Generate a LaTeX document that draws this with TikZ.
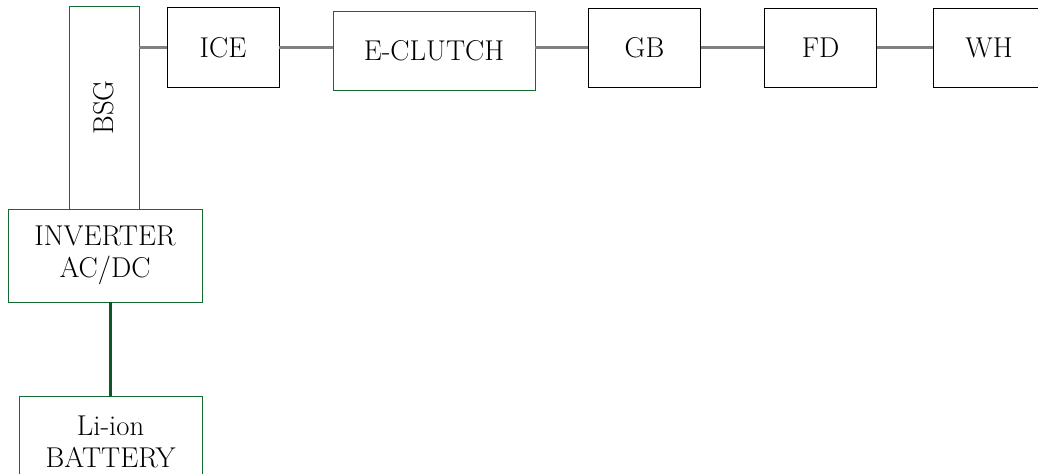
\documentclass[tikz,border=0pt]{standalone}
\definecolor{boxgreen}{RGB}{18,108,50}
\definecolor{linkgray}{RGB}{128,128,128}
\tikzset{
  x=0.75pt, y=-0.75pt,
  unit/.style={draw=#1, line width=0.7pt, rectangle, inner sep=0pt,
    align=center, font=\fontsize{21.5}{24}\selectfont},
  unit/.default=black,
  link/.style={draw=linkgray, line width=1.6pt},
  dclink/.style={draw=boxgreen!80!black, line width=1.8pt},
}
\begin{document}
\begin{tikzpicture}
\useasboundingbox (0,0) rectangle (1038,474);
\clip (0,0) rectangle (1038,474);

% drivetrain along the top
\node[unit=boxgreen, minimum width=52.5pt, minimum height=152.25pt] (bsg) at (104,107.5) {\rotatebox{90}{BSG}};
\node[unit, minimum width=84pt, minimum height=60pt] (ice) at (223,47.5) {ICE};
\node[unit=boxgreen, minimum width=151.5pt, minimum height=59.25pt] (ecl) at (434,50.5) {E-CLUTCH};
\node[unit, minimum width=84pt, minimum height=59.25pt] (gb) at (644.5,47.5) {GB};
\node[unit, minimum width=84pt, minimum height=59.25pt] (fd) at (820.5,47.5) {FD};
\node[unit, minimum width=84pt, minimum height=59.25pt] (wh) at (989,47.5) {WH};

% electrical side
\node[unit=boxgreen, minimum width=145.5pt, minimum height=69.75pt] (inv) at (105,255.5) {INVERTER\\AC/DC};
\node[unit=boxgreen, minimum width=137.25pt, minimum height=68.25pt] (bat) at (110.5,441.5) {Li-ion\\BATTERY};

% mechanical links
\draw[link] (ice.west) -- (ice.west -| bsg.east);
\draw[link] (ice.east) -- (ice.east -| ecl.west);
\draw[link] (ecl.east |- gb.west) -- (gb.west);
\draw[link] (gb.east) -- (fd.west);
\draw[link] (fd.east) -- (wh.west);

% DC link
\draw[dclink] (bat.north) -- (bat.north |- inv.south);
\end{tikzpicture}
\end{document}
